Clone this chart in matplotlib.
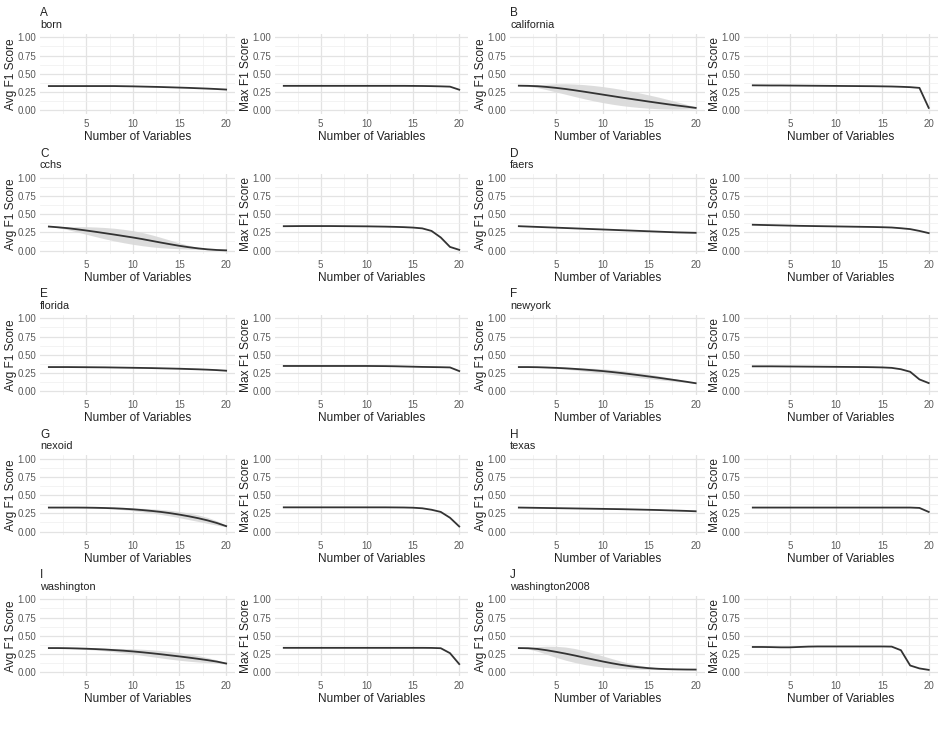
import numpy as np
import matplotlib
matplotlib.use("Agg")
import matplotlib.pyplot as plt

plt.rcParams['font.family'] = ['Liberation Sans', 'DejaVu Sans']

# number of variables
n_vars = list(range(1, 21))

tags = ["A", "B", "C", "D", "E", "F", "G", "H", "I", "J"]
names = ["born", "california", "cchs", "faers", "florida",
         "newyork", "nexoid", "texas", "washington", "washington2008"]

# average F1 score per dataset (x = 1..20)
avg_born = [0.330, 0.330, 0.330, 0.330, 0.330, 0.330, 0.330, 0.330, 0.328, 0.326,
            0.323, 0.320, 0.317, 0.313, 0.309, 0.305, 0.300, 0.295, 0.289, 0.282]
avg_california = [0.335, 0.333, 0.328, 0.318, 0.305, 0.290, 0.272, 0.253, 0.233, 0.213,
                  0.193, 0.173, 0.154, 0.135, 0.116, 0.098, 0.080, 0.063, 0.047, 0.030]
avg_cchs = [0.330, 0.320, 0.308, 0.293, 0.276, 0.258, 0.239, 0.220, 0.200, 0.180,
            0.158, 0.134, 0.110, 0.087, 0.065, 0.046, 0.030, 0.017, 0.008, 0.003]
avg_faers = [0.335, 0.330, 0.325, 0.320, 0.315, 0.310, 0.305, 0.300, 0.295, 0.290,
             0.285, 0.280, 0.275, 0.270, 0.265, 0.260, 0.255, 0.250, 0.247, 0.244]
avg_florida = [0.330, 0.330, 0.330, 0.329, 0.328, 0.327, 0.326, 0.324, 0.322, 0.320,
               0.318, 0.316, 0.313, 0.310, 0.307, 0.303, 0.299, 0.294, 0.288, 0.280]
avg_newyork = [0.330, 0.330, 0.328, 0.324, 0.319, 0.313, 0.305, 0.296, 0.286, 0.275,
               0.262, 0.248, 0.233, 0.217, 0.200, 0.183, 0.165, 0.147, 0.128, 0.108]
avg_nexoid = [0.330, 0.330, 0.330, 0.330, 0.329, 0.327, 0.324, 0.320, 0.314, 0.306,
              0.296, 0.284, 0.270, 0.253, 0.233, 0.210, 0.184, 0.154, 0.118, 0.075]
avg_texas = [0.330, 0.328, 0.326, 0.324, 0.322, 0.320, 0.318, 0.316, 0.314, 0.312,
             0.310, 0.308, 0.305, 0.302, 0.299, 0.296, 0.292, 0.288, 0.284, 0.279]
avg_washington = [0.330, 0.330, 0.328, 0.325, 0.321, 0.316, 0.310, 0.302, 0.294, 0.284,
                  0.272, 0.259, 0.245, 0.230, 0.215, 0.199, 0.182, 0.164, 0.144, 0.118]
avg_washington2008 = [0.330, 0.328, 0.318, 0.300, 0.278, 0.254, 0.228, 0.200, 0.173, 0.146,
                      0.121, 0.099, 0.080, 0.065, 0.053, 0.045, 0.040, 0.037, 0.035, 0.034]

# spread of the average F1 score (shaded band)
sd_born = [0.0] * 20
sd_california = [0.000, 0.007, 0.020, 0.038, 0.056, 0.072, 0.086, 0.097, 0.105, 0.110,
                 0.112, 0.111, 0.107, 0.100, 0.091, 0.080, 0.066, 0.050, 0.032, 0.012]
sd_cchs = [0.000, 0.007, 0.020, 0.036, 0.052, 0.066, 0.078, 0.087, 0.092, 0.094,
           0.091, 0.083, 0.071, 0.056, 0.040, 0.026, 0.014, 0.006, 0.002, 0.000]
sd_faers = [0.0] * 20
sd_florida = [0.0] * 20
sd_newyork = [0.000, 0.000, 0.002, 0.005, 0.008, 0.012, 0.017, 0.022, 0.027, 0.031,
              0.034, 0.035, 0.035, 0.034, 0.031, 0.027, 0.022, 0.016, 0.009, 0.003]
sd_nexoid = [0.000, 0.000, 0.000, 0.001, 0.002, 0.004, 0.006, 0.010, 0.014, 0.019,
             0.024, 0.029, 0.034, 0.039, 0.043, 0.045, 0.045, 0.041, 0.030, 0.010]
sd_washington = [0.000, 0.000, 0.002, 0.005, 0.009, 0.013, 0.018, 0.024, 0.030, 0.036,
                 0.042, 0.047, 0.051, 0.053, 0.053, 0.050, 0.044, 0.035, 0.023, 0.007]
sd_texas = [0.0] * 20
sd_washington2008 = [0.000, 0.010, 0.032, 0.056, 0.076, 0.090, 0.096, 0.095, 0.088, 0.077,
                     0.064, 0.050, 0.037, 0.026, 0.018, 0.011, 0.006, 0.003, 0.001, 0.000]

# max F1 score per dataset
max_born = [0.333, 0.333, 0.333, 0.333, 0.333, 0.333, 0.333, 0.333, 0.333, 0.333,
            0.333, 0.333, 0.333, 0.333, 0.332, 0.331, 0.329, 0.326, 0.322, 0.280]
max_california = [0.340, 0.339, 0.338, 0.338, 0.337, 0.336, 0.335, 0.334, 0.333, 0.332,
                  0.331, 0.330, 0.329, 0.328, 0.326, 0.324, 0.320, 0.315, 0.305, 0.030]
max_cchs = [0.335, 0.336, 0.337, 0.337, 0.337, 0.337, 0.336, 0.335, 0.334, 0.333,
            0.331, 0.329, 0.326, 0.322, 0.316, 0.305, 0.270, 0.180, 0.050, 0.010]
max_faers = [0.355, 0.352, 0.349, 0.346, 0.343, 0.340, 0.338, 0.336, 0.334, 0.332,
             0.330, 0.328, 0.326, 0.324, 0.321, 0.317, 0.307, 0.295, 0.270, 0.240]
max_florida = [0.345, 0.345, 0.345, 0.345, 0.345, 0.345, 0.345, 0.345, 0.345, 0.345,
               0.344, 0.343, 0.341, 0.338, 0.335, 0.332, 0.330, 0.328, 0.325, 0.275]
max_newyork = [0.340, 0.340, 0.340, 0.339, 0.338, 0.337, 0.336, 0.335, 0.334, 0.333,
               0.332, 0.331, 0.330, 0.328, 0.325, 0.319, 0.300, 0.265, 0.160, 0.110]
max_nexoid = [0.333, 0.333, 0.333, 0.333, 0.333, 0.333, 0.333, 0.333, 0.333, 0.333,
              0.333, 0.333, 0.332, 0.331, 0.328, 0.320, 0.300, 0.270, 0.190, 0.070]
max_texas = [0.330, 0.330, 0.330, 0.330, 0.330, 0.330, 0.330, 0.330, 0.330, 0.330,
             0.330, 0.330, 0.330, 0.330, 0.330, 0.330, 0.330, 0.330, 0.325, 0.270]
max_washington = [0.333, 0.333, 0.333, 0.333, 0.333, 0.333, 0.333, 0.333, 0.333, 0.333,
                  0.333, 0.333, 0.333, 0.333, 0.333, 0.333, 0.332, 0.328, 0.260, 0.110]
max_washington2008 = [0.345, 0.345, 0.343, 0.340, 0.340, 0.345, 0.350, 0.352, 0.352, 0.352,
                      0.352, 0.352, 0.352, 0.352, 0.352, 0.350, 0.300, 0.090, 0.050, 0.030]

avg_all = [avg_born, avg_california, avg_cchs, avg_faers, avg_florida,
           avg_newyork, avg_nexoid, avg_texas, avg_washington, avg_washington2008]
sd_all = [sd_born, sd_california, sd_cchs, sd_faers, sd_florida,
          sd_newyork, sd_nexoid, sd_texas, sd_washington, sd_washington2008]
max_all = [max_born, max_california, max_cchs, max_faers, max_florida,
           max_newyork, max_nexoid, max_texas, max_washington, max_washington2008]

W, H = 943, 737
fig = plt.figure(figsize=(W / 100, H / 100), dpi=100)

# pixel extents of the panel columns and rows
col_px = [(40, 235), (275, 468), (510, 704.5), (744, 937.5)]
row_top0, row_pitch, panel_h = 33.7, 140.5, 80

line_col = '#333333'
band_col = '#d9d9d9'


def style_axis(ax, ylabel, width_px):
    ax.set_xlim(0.05, 20.95)
    ax.set_ylim(-0.05, 1.05)
    ax.set_xticks([5, 10, 15, 20])
    ax.set_xticks([2.5, 7.5, 12.5, 17.5], minor=True)
    ax.set_yticks([0, 0.25, 0.5, 0.75, 1.0])
    ax.set_yticks([0.125, 0.375, 0.625, 0.875], minor=True)
    ax.set_yticklabels(['0.00', '0.25', '0.50', '0.75', '1.00'])
    ax.grid(which='major', color='#e3e3e3', lw=0.9)
    ax.grid(which='minor', color='#efefef', lw=0.5)
    ax.set_axisbelow(True)
    for s in ax.spines.values():
        s.set_visible(False)
    ax.tick_params(which='both', length=0, labelsize=7, labelcolor='#5a5a5a')
    ax.tick_params(axis='y', pad=2.5)
    ax.tick_params(axis='x', pad=4)
    ax.set_xlabel('Number of Variables', fontsize=8.6, labelpad=1.5, color='#222222')
    ax.set_ylabel(ylabel, fontsize=8.6, color='#222222')
    ax.yaxis.set_label_coords(-23 / width_px, 0.5)


for i in range(10):
    r, c = i // 2, (i % 2) * 2
    top = row_top0 + r * row_pitch
    axes = []
    for k in range(2):
        x0, x1 = col_px[c + k]
        ax = fig.add_axes([x0 / W, 1 - (top + panel_h) / H, (x1 - x0) / W, panel_h / H])
        axes.append((ax, x1 - x0))
    avg = np.array(avg_all[i])
    sd = np.array(sd_all[i])
    ax, w = axes[0]
    ax.fill_between(n_vars, np.clip(avg - sd, 0, None), avg + sd,
                    color=band_col, alpha=0.9, lw=0)
    ax.plot(n_vars, avg, color=line_col, lw=1.3)
    style_axis(ax, 'Avg F1 Score', w)
    ax.text(0, 1.18, tags[i], transform=ax.transAxes, fontsize=8.5, va='bottom',
            ha='left', color='#222222')
    ax.text(0, 1.05, names[i], transform=ax.transAxes, fontsize=7.8, va='bottom',
            ha='left', color='#222222')

    ax, w = axes[1]
    ax.plot(n_vars, max_all[i], color=line_col, lw=1.3)
    style_axis(ax, 'Max F1 Score', w)

fig.savefig('out.png', dpi=100, facecolor='white')
